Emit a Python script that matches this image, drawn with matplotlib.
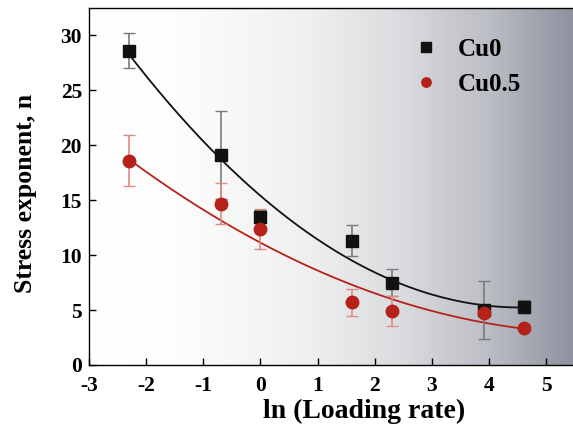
import numpy as np
import matplotlib.pyplot as plt
from matplotlib.colors import LinearSegmentedColormap

plt.rcParams['font.family'] = ['Liberation Serif', 'DejaVu Serif']
plt.rcParams['font.weight'] = 'bold'
plt.rcParams['axes.unicode_minus'] = False

# ln(loading rate)
x = [-2.30, -0.69, 0.0, 1.61, 2.30, 3.91, 4.61]
cu0 = [28.6, 19.1, 13.5, 11.3, 7.5, 5.0, 5.3]
cu0_err = [1.6, 4.0, 0.6, 1.4, 1.2, 2.65, 0.6]
cu05 = [18.6, 14.7, 12.4, 5.7, 4.9, 4.7, 3.4]
cu05_err = [2.3, 1.9, 1.8, 1.2, 1.35, 0.0, 0.0]

black = '#111111'
red = '#b5221a'

fig = plt.figure(figsize=(5.73, 4.26), dpi=100)
ax = fig.add_axes([89 / 573, 61 / 426, 484 / 573, 357 / 426])
ax.set_xlim(-3, 5.47)
ax.set_ylim(0, 32.5)

# background gradient
cmap = LinearSegmentedColormap.from_list(
    'bg', [(0, '#ffffff'), (0.18, '#fdfdfd'), (0.45, '#f0f0f0'),
           (0.65, '#dadbde'), (0.82, '#bdbfc6'), (1.0, '#8f93a0')])
grad = np.linspace(0, 1, 512).reshape(1, -1)
ax.imshow(grad, cmap=cmap, aspect='auto', extent=[-3, 5.47, 0, 32.5], zorder=0)

# quadratic fits
xf = np.linspace(x[0], x[-1], 200)
p0 = np.polyfit(x, cu0, 2)
p1 = np.polyfit(x, cu05, 2, w=[3, 1, 1, 1, 1, 1, 1])
ax.plot(xf, np.polyval(p0, xf), color=black, lw=1.3, zorder=2)
ax.plot(xf, np.polyval(p1, xf), color=red, lw=1.3, zorder=2)

ax.errorbar(x, cu0, yerr=cu0_err, fmt='none', ecolor='#7a7a7a', elinewidth=1.2,
            capsize=4, capthick=1.0, zorder=3)
ax.errorbar(x, cu05, yerr=cu05_err, fmt='none', ecolor='#e08a84', elinewidth=1.2,
            capsize=4, capthick=1.0, zorder=3)
ax.plot(x, cu0, 's', color=black, ms=9, zorder=4, label='Cu0')
ax.plot(x, cu05, 'o', color=red, ms=9, zorder=4, label='Cu0.5')

ax.set_xticks(range(-3, 6))
ax.set_yticks(range(0, 31, 5))
ax.tick_params(direction='in', length=5, width=1, labelsize=15.5)
ax.tick_params(axis='x', pad=8)
ax.tick_params(axis='y', pad=5)
for lab in ax.get_xticklabels() + ax.get_yticklabels():
    lab.set_fontweight('bold')
ax.set_xlabel('ln (Loading rate)', fontsize=20, fontweight='bold')
ax.set_ylabel('Stress exponent, n', fontsize=18.5, fontweight='bold')
ax.xaxis.set_label_coords(0.568, -0.095)
ax.yaxis.set_label_coords(-0.107, 0.48)
ax.spines['right'].set_visible(False)
for s in ['left', 'bottom', 'top']:
    ax.spines[s].set_linewidth(1.0)

leg = ax.legend(loc='upper right', bbox_to_anchor=(0.94, 0.98), frameon=False,
                fontsize=18, markerscale=0.75, handlelength=1.0, handletextpad=0.8,
                labelspacing=0.5)
for t in leg.get_texts():
    t.set_fontweight('bold')

fig.savefig('out.png', dpi=100)
